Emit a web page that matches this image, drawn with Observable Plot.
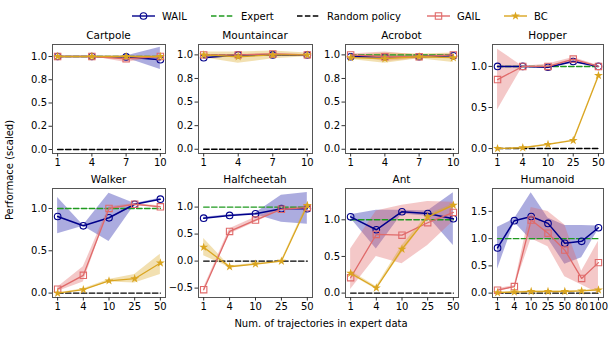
<!DOCTYPE html>
<html><head><meta charset="utf-8">
<script src="https://cdn.jsdelivr.net/npm/d3@7"></script>
<script src="https://cdn.jsdelivr.net/npm/@observablehq/plot@0.6"></script>
<style>
body{margin:0;background:#fff;font-family:"DejaVu Sans",sans-serif;}
#wrap{position:relative;width:615px;height:338px;overflow:hidden;}
.panel{position:absolute;}
.title{position:absolute;font-size:10.5px;text-align:center;line-height:12px;color:#000;}
.lab{position:absolute;font-size:10px;color:#000;white-space:nowrap;}
</style></head>
<body><div id="wrap"></div>
<script>
// ---------- data ----------
const methods = ["WAIL", "Expert", "Random policy", "GAIL", "BC"];

const cartpoleX = [1, 4, 7, 10];
const cartpoleWAIL = [1.0, 1.0, 0.995, 0.965], cartpoleWAILlo = [1.0, 1.0, 0.985, 0.86], cartpoleWAILhi = [1.0, 1.0, 1.005, 1.10];
const cartpoleGAIL = [1.0, 1.0, 0.975, 1.0], cartpoleGAILlo = [1.0, 1.0, 0.935, 1.0], cartpoleGAILhi = [1.0, 1.0, 1.005, 1.0];
const cartpoleBC = [1.0, 1.0, 1.0, 1.0], cartpoleBClo = [1.0, 1.0, 1.0, 1.0], cartpoleBChi = [1.0, 1.0, 1.0, 1.0];

const mountaincarX = [1, 4, 7, 10];
const mountaincarWAIL = [0.97, 1.0, 1.0, 1.0], mountaincarWAILlo = [0.965, 0.995, 0.995, 0.995], mountaincarWAILhi = [0.975, 1.005, 1.005, 1.005];
const mountaincarGAIL = [1.0, 1.0, 1.01, 1.0], mountaincarGAILlo = [0.995, 0.995, 1.005, 0.995], mountaincarGAILhi = [1.005, 1.005, 1.015, 1.005];
const mountaincarBC = [1.0, 0.98, 1.0, 1.0], mountaincarBClo = [0.97, 0.91, 0.96, 0.98], mountaincarBChi = [1.03, 1.03, 1.04, 1.02];

const acrobotX = [1, 4, 7, 10];
const acrobotWAIL = [0.98, 0.98, 0.98, 0.99], acrobotWAILlo = [0.97, 0.97, 0.97, 0.98], acrobotWAILhi = [0.99, 0.99, 0.99, 1.0];
const acrobotGAIL = [1.0, 0.98, 0.98, 1.0], acrobotGAILlo = [0.99, 0.93, 0.96, 0.99], acrobotGAILhi = [1.01, 1.03, 1.0, 1.01];
const acrobotBC = [0.97, 0.96, 0.98, 0.97], acrobotBClo = [0.95, 0.91, 0.96, 0.92], acrobotBChi = [0.99, 1.02, 1.01, 1.02];

const hopperX = [1, 4, 10, 25, 50];
const hopperWAIL = [1.0, 1.0, 0.99, 1.06, 1.0], hopperWAILlo = [0.995, 0.995, 0.98, 1.05, 0.99], hopperWAILhi = [1.005, 1.005, 1.0, 1.07, 1.01];
const hopperGAIL = [0.84, 1.0, 1.0, 1.09, 1.0], hopperGAILlo = [0.47, 1.0, 0.97, 1.06, 0.99], hopperGAILhi = [1.21, 1.0, 1.03, 1.11, 1.01];
const hopperBC = [0.0, 0.01, 0.05, 0.1, 0.89], hopperBClo = [0.0, 0.005, 0.045, 0.095, 0.885], hopperBChi = [0.0, 0.015, 0.055, 0.105, 0.895];

const walkerX = [1, 4, 10, 25, 50];
const walkerWAIL = [0.905, 0.795, 0.89, 1.05, 1.11], walkerWAILlo = [0.70, 0.79, 0.61, 1.04, 1.10], walkerWAILhi = [1.13, 0.80, 1.18, 1.06, 1.12];
const walkerGAIL = [0.047, 0.21, 1.0, 1.05, 1.02], walkerGAILlo = [0.02, 0.13, 0.99, 1.04, 1.01], walkerGAILhi = [0.07, 0.31, 1.02, 1.06, 1.03];
const walkerBC = [0.0, 0.04, 0.145, 0.17, 0.355], walkerBClo = [0.0, 0.03, 0.13, 0.12, 0.22], walkerBChi = [0.0, 0.05, 0.16, 0.22, 0.46];

const halfcheetahX = [1, 4, 10, 25, 50];
const halfcheetahWAIL = [0.795, 0.845, 0.876, 0.97, 0.97], halfcheetahWAILlo = [0.78, 0.83, 0.86, 0.72, 0.68], halfcheetahWAILhi = [0.81, 0.86, 0.89, 1.22, 1.27];
const halfcheetahGAIL = [-0.53, 0.55, 0.76, 0.96, 0.99], halfcheetahGAILlo = [-0.56, 0.5, 0.72, 0.94, 0.97], halfcheetahGAILhi = [-0.5, 0.6, 0.81, 0.99, 1.01];
const halfcheetahBC = [0.255, -0.105, -0.055, 0.0, 1.03], halfcheetahBClo = [0.1, -0.12, -0.07, -0.01, 1.0], halfcheetahBChi = [0.42, -0.09, -0.04, 0.01, 1.07];

const antX = [1, 4, 10, 25, 50];
const antWAIL = [1.04, 0.864, 1.11, 1.086, 1.014], antWAILlo = [1.02, 0.6, 1.08, 1.05, 0.65], antWAILhi = [1.07, 1.13, 1.13, 1.12, 1.37];
const antGAIL = [0.21, 0.80, 0.79, 0.96, 1.1], antGAILlo = [0.05, 0.5, 0.4, 0.65, 0.98], antGAILhi = [0.6, 1.12, 1.2, 1.25, 1.24];
const antBC = [0.27, 0.07, 0.6, 1.04, 1.2], antBClo = [0.25, 0.05, 0.55, 1.02, 1.18], antBChi = [0.3, 0.09, 0.65, 1.07, 1.22];

const humanoidX = [1, 4, 10, 25, 50, 80, 100];
const humanoidWAIL = [0.83, 1.33, 1.405, 1.28, 0.914, 0.95, 1.2], humanoidWAILlo = [0.44, 1.3, 0.97, 1.0, 0.53, 0.65, 1.17], humanoidWAILhi = [1.21, 1.36, 1.84, 1.38, 1.24, 1.24, 1.23];
const humanoidGAIL = [0.055, 0.12, 1.34, 1.1, 0.79, 0.27, 0.56], humanoidGAILlo = [0.03, 0.1, 1.0, 0.85, 0.3, 0.15, 0.0], humanoidGAILhi = [0.08, 0.14, 1.57, 1.5, 1.25, 0.4, 0.95];
const humanoidBC = [0.01, 0.02, 0.03, 0.03, 0.03, 0.04, 0.06], humanoidBClo = [0.0, 0.01, 0.02, 0.02, 0.02, 0.03, 0.05], humanoidBChi = [0.02, 0.03, 0.04, 0.04, 0.04, 0.05, 0.07];

const expertLevel = 1.0, randomLevel = 0.0;
const smallTicks = [0, 0.25, 0.5, 0.75, 1.0], smallTickLabels = ["0.0", "0.2", "0.5", "0.8", "1.0"];

// ---------- style ----------
const C = {WAIL: "#00008b", WAILfill: "#4848b8", GAIL: "#e06a6a", GAILfill: "#e06060", BC: "#daa520", BCfill: "#daa520", Expert: "#1f9a1f", Random: "#000"};
const dash = "5.5,2.4";

const panels = [
  {title: "Cartpole", col: 0, row: 0, xs: cartpoleX, linear: true, yDom: [-0.043, 1.129], yTicks: smallTicks, yLabels: smallTickLabels,
   W: [cartpoleWAIL, cartpoleWAILlo, cartpoleWAILhi], G: [cartpoleGAIL, cartpoleGAILlo, cartpoleGAILhi], B: [cartpoleBC, cartpoleBClo, cartpoleBChi]},
  {title: "Mountaincar", col: 1, row: 0, xs: mountaincarX, linear: true, yDom: [-0.045, 1.11], yTicks: smallTicks, yLabels: smallTickLabels,
   W: [mountaincarWAIL, mountaincarWAILlo, mountaincarWAILhi], G: [mountaincarGAIL, mountaincarGAILlo, mountaincarGAILhi], B: [mountaincarBC, mountaincarBClo, mountaincarBChi]},
  {title: "Acrobot", col: 2, row: 0, xs: acrobotX, linear: true, yDom: [-0.045, 1.11], yTicks: smallTicks, yLabels: smallTickLabels,
   W: [acrobotWAIL, acrobotWAILlo, acrobotWAILhi], G: [acrobotGAIL, acrobotGAILlo, acrobotGAILhi], B: [acrobotBC, acrobotBClo, acrobotBChi]},
  {title: "Hopper", col: 3, row: 0, xs: hopperX, linear: false, yDom: [-0.06, 1.267], yTicks: [0, 0.5, 1.0],
   W: [hopperWAIL, hopperWAILlo, hopperWAILhi], G: [hopperGAIL, hopperGAILlo, hopperGAILhi], B: [hopperBC, hopperBClo, hopperBChi]},
  {title: "Walker", col: 0, row: 1, xs: walkerX, linear: false, yDom: [-0.052, 1.236], yTicks: [0, 0.5, 1.0],
   W: [walkerWAIL, walkerWAILlo, walkerWAILhi], G: [walkerGAIL, walkerGAILlo, walkerGAILhi], B: [walkerBC, walkerBClo, walkerBChi]},
  {title: "Halfcheetah", col: 1, row: 1, xs: halfcheetahX, linear: false, yDom: [-0.674, 1.344], yTicks: [-0.5, 0, 0.5, 1.0],
   W: [halfcheetahWAIL, halfcheetahWAILlo, halfcheetahWAILhi], G: [halfcheetahGAIL, halfcheetahGAILlo, halfcheetahGAILhi], B: [halfcheetahBC, halfcheetahBClo, halfcheetahBChi]},
  {title: "Ant", col: 2, row: 1, xs: antX, linear: false, yDom: [-0.06, 1.427], yTicks: [0, 0.5, 1.0],
   W: [antWAIL, antWAILlo, antWAILhi], G: [antGAIL, antGAILlo, antGAILhi], B: [antBC, antBClo, antBChi]},
  {title: "Humanoid", col: 3, row: 1, xs: humanoidX, linear: false, yDom: [-0.08, 1.92], yTicks: [0, 0.5, 1.0, 1.5],
   W: [humanoidWAIL, humanoidWAILlo, humanoidWAILhi], G: [humanoidGAIL, humanoidGAILlo, humanoidGAILhi], B: [humanoidBC, humanoidBClo, humanoidBChi]}
];

// ---------- layout ----------
const frameLeft = [52, 198, 345, 492], frameW = [113, 114, 113, 111];
const frameTop = [44, 188], frameH = 109;
const ml = 30, mr = 3, mt = 3, mb = 22;
const wrap = document.getElementById("wrap");

function seriesMarks(idx, xf, s, color, symbol, opts) {
  const [m] = s;
  return [
    Plot.lineY(idx, {x: xf, y: i => m[i], stroke: color, strokeWidth: opts.sw}),
    Plot.dot(idx, {x: xf, y: i => m[i], symbol, r: opts.r, stroke: opts.filled ? null : color, fill: opts.filled ? color : "none", strokeWidth: 1.1})
  ];
}
function bandMark(idx, xf, s, fill, op) {
  const [, lo, hi] = s;
  return Plot.areaY(idx, {x: xf, y1: i => lo[i], y2: i => hi[i], fill, fillOpacity: op, curve: "linear"});
}

for (const p of panels) {
  const n = p.xs.length;
  const idx = d3.range(n);
  const xf = p.linear ? (i => p.xs[i]) : (i => i);
  const xDom = p.linear ? [0.55, 10.45] : [-0.05 * (n - 1), (n - 1) * 1.05];
  const xTicks = p.linear ? p.xs : idx;
  const xFmt = p.linear ? (d => String(d)) : (d => String(p.xs[d]));
  const yFmt = p.yLabels ? (d => p.yLabels[p.yTicks.indexOf(d)]) : d3.format(".1f");
  const w = frameW[p.col], left = frameLeft[p.col], top = frameTop[p.row];
  const chart = Plot.plot({
    width: ml + w + mr, height: mt + frameH + mb,
    marginLeft: ml, marginRight: mr, marginTop: mt, marginBottom: mb,
    x: {domain: xDom}, y: {domain: p.yDom},
    style: {fontFamily: "DejaVu Sans, sans-serif", fontSize: "10px", color: "#000", background: "transparent", overflow: "visible"},
    marks: [
      bandMark(idx, xf, p.W, C.WAILfill, 0.45),
      bandMark(idx, xf, p.G, C.GAILfill, 0.35),
      bandMark(idx, xf, p.B, C.BCfill, 0.35),
      Plot.lineY(idx, {x: xf, y: () => expertLevel, stroke: C.Expert, strokeWidth: 1.4, strokeDasharray: dash}),
      Plot.lineY(idx, {x: xf, y: () => randomLevel, stroke: C.Random, strokeWidth: 1.4, strokeDasharray: dash}),
      ...seriesMarks(idx, xf, p.W, C.WAIL, "circle", {sw: 1.5, r: 3.3}),
      ...seriesMarks(idx, xf, p.G, C.GAIL, "square", {sw: 1.3, r: 3.6}),
      ...seriesMarks(idx, xf, p.B, C.BC, "star", {sw: 1.3, r: 2.8, filled: true}),
      Plot.frame({stroke: "#555", strokeWidth: 1}),
      Plot.axisX(xTicks, {tickFormat: xFmt, tickSize: 3.5, tickPadding: 2, label: null, stroke: "#333"}),
      Plot.axisY(p.yTicks, {tickFormat: yFmt, tickSize: 3.5, tickPadding: 2, label: null, stroke: "#333"})
    ]
  });
  chart.classList.add("panel");
  chart.style.left = (left - ml) + "px";
  chart.style.top = (top - mt) + "px";
  wrap.appendChild(chart);
  const t = document.createElement("div");
  t.className = "title";
  t.textContent = p.title;
  t.style.left = left + "px"; t.style.width = w + "px";
  t.style.top = (top - 15) + "px";
  wrap.appendChild(t);
}

// ---------- axis titles ----------
const xl = document.createElement("div");
xl.className = "lab"; xl.textContent = "Num. of trajectories in expert data";
xl.style.left = "321px"; xl.style.top = "318px"; xl.style.transform = "translateX(-50%)";
wrap.appendChild(xl);
const yl = document.createElement("div");
yl.className = "lab"; yl.textContent = "Performace (scaled)";
yl.style.left = "9px"; yl.style.top = "170px"; yl.style.transform = "translate(-50%,-50%) rotate(-90deg)";
wrap.appendChild(yl);

// ---------- legend ----------
const legendX = [132, 211, 297, 427, 504];
const lg = d3.create("svg").attr("width", 615).attr("height", 30)
  .style("position", "absolute").style("left", "0px").style("top", "0px")
  .style("font-family", "DejaVu Sans, sans-serif").style("font-size", "10px");
const ly = 16;
methods.forEach((m, k) => {
  const x0 = legendX[k];
  const g = lg.append("g");
  let stroke, dashed = false, sym = null;
  if (m === "WAIL") { stroke = C.WAIL; sym = "circle"; }
  else if (m === "Expert") { stroke = C.Expert; dashed = true; }
  else if (m === "Random policy") { stroke = C.Random; dashed = true; }
  else if (m === "GAIL") { stroke = C.GAIL; sym = "square"; }
  else { stroke = C.BC; sym = "star"; }
  g.append("line").attr("x1", x0).attr("x2", x0 + 23).attr("y1", ly).attr("y2", ly)
    .attr("stroke", stroke).attr("stroke-width", 1.4).attr("stroke-dasharray", dashed ? dash : null);
  const cx = x0 + 11.5;
  if (sym === "circle") g.append("circle").attr("cx", cx).attr("cy", ly).attr("r", 3.3).attr("fill", "none").attr("stroke", stroke).attr("stroke-width", 1.1);
  if (sym === "square") g.append("rect").attr("x", cx - 3.2).attr("y", ly - 3.2).attr("width", 6.4).attr("height", 6.4).attr("fill", "none").attr("stroke", stroke).attr("stroke-width", 1.1);
  if (sym === "star") g.append("path").attr("transform", `translate(${cx},${ly})`).attr("d", d3.symbol(d3.symbolStar, 24)()).attr("fill", stroke);
  g.append("text").attr("x", x0 + 30).attr("y", ly).attr("dy", "0.35em").text(m);
});
wrap.appendChild(lg.node());
</script>
</body></html>
